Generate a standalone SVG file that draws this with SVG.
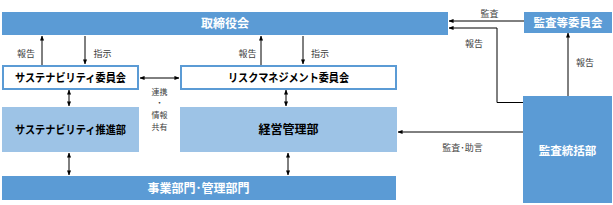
<svg xmlns="http://www.w3.org/2000/svg" width="613" height="205" viewBox="0 0 613 205">
<defs>
<marker id="ah" viewBox="0 0 6 6" refX="5.5" refY="3" markerWidth="5" markerHeight="5" orient="auto-start-reverse" markerUnits="userSpaceOnUse"><path d="M0,0.5 L6,3 L0,5.5 Z" fill="#000"/></marker>
<style>
.dk{fill:#5B9BD5}
.lt{fill:#9DC3E6}
.wb{fill:#fff;stroke:#5B9BD5;stroke-width:2}
text{font-family:"Noto Sans CJK JP","Noto Sans CJK SC",sans-serif;text-anchor:middle}
.tw{fill:#fff;font-weight:bold;font-size:12px}
.tb{fill:#000;font-weight:bold;font-size:11.5px}
.lb{fill:#404040;font-size:9px}
.sm{font-size:8px}
.c{stroke:#000;stroke-width:1;fill:none}
</style>
</defs>
<g id="torishimariyakukai"><rect class="dk" x="2" y="12" width="446" height="23"/><text class="tw" x="225" y="28">取締役会</text></g>
<g id="kansatou"><rect class="dk" x="524" y="12" width="88" height="21"/><text class="tw" x="568" y="26.5" style="font-size:11.5px">監査等委員会</text></g>
<g id="sustain-iinkai"><rect class="wb" x="3" y="66" width="135" height="23"/><text class="tb" x="70.5" y="81.5" textLength="111" lengthAdjust="spacingAndGlyphs">サステナビリティ委員会</text></g>
<g id="risk-iinkai"><rect class="wb" x="181" y="66" width="215" height="23"/><text class="tb" x="288.5" y="81.5" textLength="121" lengthAdjust="spacingAndGlyphs">リスクマネジメント委員会</text></g>
<g id="sustain-suishin"><rect class="lt" x="2" y="107" width="137" height="45"/><text class="tb" x="70.5" y="133.5" textLength="111" lengthAdjust="spacingAndGlyphs">サステナビリティ推進部</text></g>
<g id="keiei"><rect class="lt" x="180" y="107" width="217" height="45"/><text class="tb" x="288.5" y="133.5" style="font-size:12px">経営管理部</text></g>
<g id="jigyou"><rect class="dk" x="2" y="176" width="394" height="24"/><text class="tw" x="198.5" y="192.5">事業部門･管理部門</text></g>
<g id="kansa-toukatsu"><rect class="dk" x="523" y="96" width="89" height="107"/><text class="tw" x="567.5" y="155" style="font-size:11.5px">監査統括部</text></g>
<g id="connectors">
<line class="c" x1="42" y1="65" x2="42" y2="36" marker-end="url(#ah)"/>
<line class="c" x1="85" y1="36" x2="85" y2="64" marker-end="url(#ah)"/>
<line class="c" x1="261" y1="65" x2="261" y2="36" marker-end="url(#ah)"/>
<line class="c" x1="303" y1="36" x2="303" y2="64" marker-end="url(#ah)"/>
<line class="c" x1="140" y1="78" x2="179" y2="78" marker-start="url(#ah)" marker-end="url(#ah)"/>
<line class="c" x1="69" y1="90" x2="69" y2="106" marker-start="url(#ah)" marker-end="url(#ah)"/>
<line class="c" x1="286" y1="90" x2="286" y2="106" marker-start="url(#ah)" marker-end="url(#ah)"/>
<line class="c" x1="69" y1="153" x2="69" y2="175" marker-start="url(#ah)" marker-end="url(#ah)"/>
<line class="c" x1="288" y1="153" x2="288" y2="175" marker-start="url(#ah)" marker-end="url(#ah)"/>
<line class="c" x1="524" y1="21" x2="449" y2="21" marker-end="url(#ah)"/>
<polyline class="c" points="523,102.5 497,102.5 497,28 449,28" marker-end="url(#ah)"/>
<line class="c" x1="568" y1="96" x2="568" y2="33" marker-end="url(#ah)"/>
<line class="c" x1="523" y1="132" x2="398" y2="132" marker-end="url(#ah)"/>
<text class="lb" x="26" y="57">報告</text>
<text class="lb" x="102.5" y="57">指示</text>
<text class="lb" x="247.5" y="57">報告</text>
<text class="lb" x="320" y="57">指示</text>
<text class="lb sm" x="159.5" y="94.5">連携</text>
<text class="lb sm" x="159.5" y="106.2">・</text>
<text class="lb sm" x="159.5" y="117.9">情報</text>
<text class="lb sm" x="159.5" y="129.6">共有</text>
<text class="lb" x="489.5" y="16.5">監査</text>
<text class="lb" x="474" y="46.5">報告</text>
<text class="lb" x="585" y="65.5">報告</text>
<text class="lb" x="462.5" y="150.5">監査･助言</text>
</g>
</svg>
